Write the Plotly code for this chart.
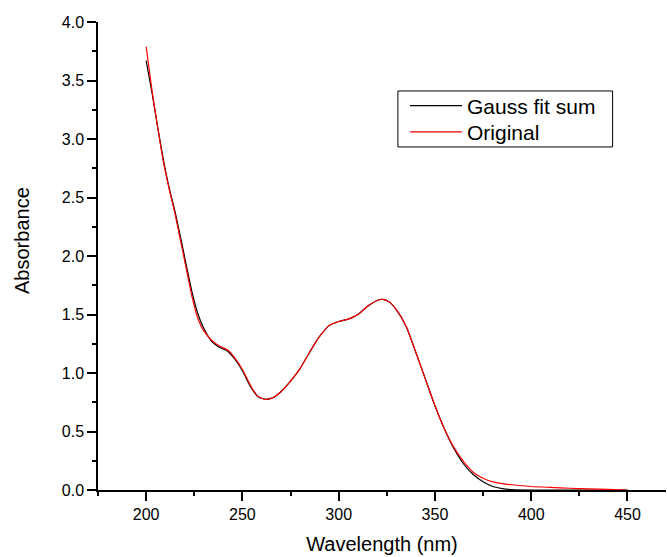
import plotly.graph_objects as go

wavelength = [200, 203, 206, 209, 212, 215, 218, 221, 224, 227, 230, 234, 238, 242, 246,
              250, 254, 258, 262, 266, 270, 275, 280, 285, 290, 295, 300, 305, 310, 315,
              320, 323, 326, 330, 335, 340, 345, 350, 355, 360, 365, 370, 375, 380, 385,
              390, 400, 410, 420, 430, 440, 450]

original = [3.79, 3.42, 3.10, 2.80, 2.57, 2.36, 2.12, 1.88, 1.64, 1.46, 1.36, 1.28, 1.23, 1.20, 1.13,
            1.03, 0.90, 0.80, 0.775, 0.79, 0.84, 0.93, 1.04, 1.18, 1.31, 1.405, 1.44, 1.46, 1.50, 1.57,
            1.62, 1.63, 1.61, 1.54, 1.40, 1.18, 0.95, 0.72, 0.52, 0.36, 0.24, 0.15, 0.10, 0.07, 0.055,
            0.045, 0.03, 0.022, 0.015, 0.01, 0.005, 0.0]

gauss_fit = [3.67, 3.40, 3.10, 2.82, 2.58, 2.38, 2.15, 1.91, 1.68, 1.50, 1.38, 1.27, 1.22, 1.19, 1.12,
             1.02, 0.89, 0.80, 0.775, 0.79, 0.84, 0.93, 1.04, 1.18, 1.31, 1.405, 1.44, 1.46, 1.50, 1.57,
             1.62, 1.63, 1.61, 1.54, 1.40, 1.18, 0.95, 0.72, 0.52, 0.35, 0.22, 0.13, 0.07, 0.03, 0.012,
             0.004, 0.0, 0.0, 0.0, 0.0, 0.0, 0.0]

x_ticks = [200, 250, 300, 350, 400, 450]
x_minor = [175, 225, 275, 325, 375, 425]
y_ticks = [0, 0.5, 1.0, 1.5, 2.0, 2.5, 3.0, 3.5, 4.0]
y_minor = [0.25, 0.75, 1.25, 1.75, 2.25, 2.75, 3.25, 3.75]

FONT = "Liberation Sans, Arial, sans-serif"

fig = go.Figure()
fig.add_trace(go.Scatter(x=wavelength, y=gauss_fit, mode="lines", name="Gauss fit sum",
                         legend="legend",
                         line=dict(color="black", width=1.2, shape="spline", smoothing=0.6)))
fig.add_trace(go.Scatter(x=wavelength, y=original, mode="lines", name="Original",
                         legend="legend2",
                         line=dict(color="#ff0000", width=1.2, shape="spline", smoothing=0.6)))

fig.add_annotation(text="Absorbance", textangle=-90, xref="paper", yref="paper",
                   x=-0.134, y=0.534, xanchor="center", yanchor="middle",
                   showarrow=False, font=dict(size=20, family=FONT, color="black"))

# legend frame
fig.add_shape(type="rect", xref="paper", yref="paper",
              x0=0.528, x1=0.906, y0=0.733, y1=0.8526,
              line=dict(color="black", width=1), fillcolor="rgba(0,0,0,0)", layer="above")

legend_common = dict(xanchor="left", yanchor="middle", borderwidth=0,
                     bgcolor="rgba(0,0,0,0)", itemwidth=52,
                     font=dict(size=21, family=FONT, color="black"))

fig.update_layout(
    width=667, height=557,
    margin=dict(l=98, r=1, t=22, b=67),
    paper_bgcolor="white", plot_bgcolor="white",
    font=dict(family=FONT, color="black", size=16),
    showlegend=True,
    legend=dict(x=0.5405, y=0.8205, **legend_common),
    legend2=dict(x=0.5405, y=0.7643, **legend_common),
    xaxis=dict(range=[175, 470], showgrid=False, zeroline=False,
               showline=True, linecolor="black", linewidth=1.5,
               ticks="outside", ticklen=9, tickwidth=1.5, tickcolor="black",
               tickmode="array", tickvals=x_ticks,
               ticktext=[str(v) for v in x_ticks],
               minor=dict(tickvals=x_minor, ticks="outside",
                          ticklen=4, tickwidth=1.5, tickcolor="black"),
               tickfont=dict(size=16),
               title=dict(text="Wavelength (nm)", font=dict(size=20), standoff=15)),
    yaxis=dict(range=[0, 4.0], showgrid=False, zeroline=False,
               showline=True, linecolor="black", linewidth=1.5,
               ticks="outside", ticklen=9, tickwidth=1.5, tickcolor="black",
               tickmode="array", tickvals=y_ticks,
               ticktext=[f"{v:.1f}" for v in y_ticks],
               minor=dict(tickvals=y_minor,
                          ticks="outside", ticklen=4, tickwidth=1.5, tickcolor="black"),
               tickfont=dict(size=16)),
)

fig.write_html("out.html", config={"displayModeBar": False},
               post_script="document.body.style.margin='0px';")
